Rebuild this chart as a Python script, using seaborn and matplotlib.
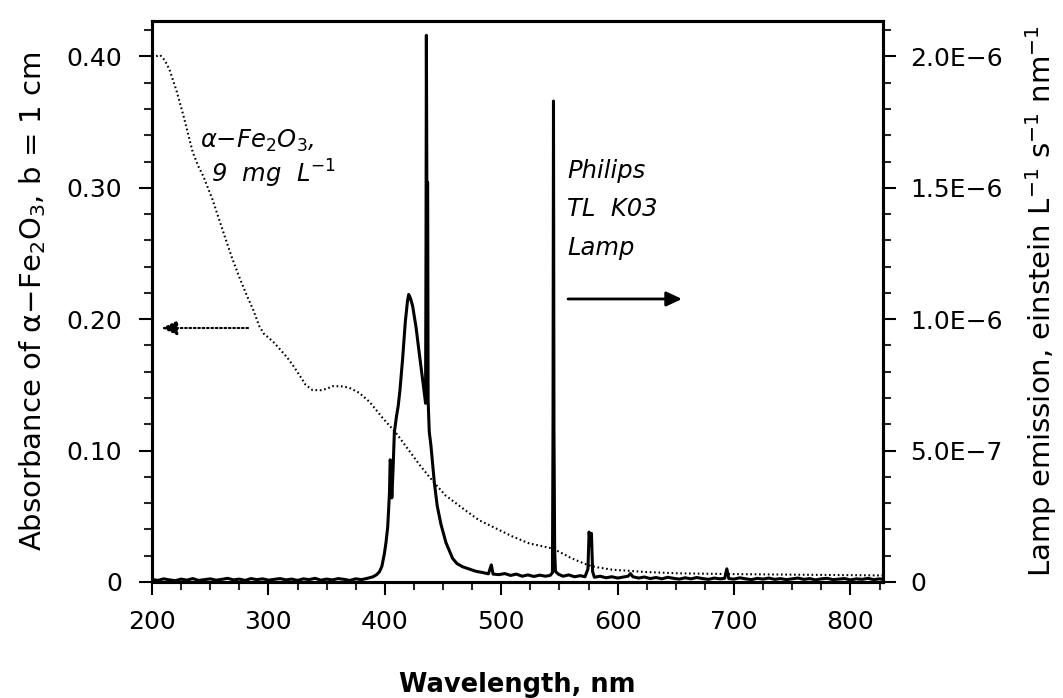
import numpy as np
import pandas as pd
import matplotlib
matplotlib.use("Agg")
import matplotlib.pyplot as plt
from matplotlib.ticker import MultipleLocator, FixedLocator, FixedFormatter
import seaborn as sns

# absorbance of alpha-Fe2O3 suspension (left axis)
abs_nm = [200, 203, 207, 211, 215, 221, 227, 231, 235, 240, 244, 248, 252, 258,
          264, 269, 275, 281, 287, 292, 296, 300, 305, 310, 316, 321, 327, 332,
          338, 345, 350, 355, 362, 369, 378, 387, 398, 410, 420, 430, 441, 452,
          467, 481, 495, 510, 524, 544, 550, 561, 575, 581, 595, 624, 652, 700,
          760, 828]
abs_val = [0.399, 0.400, 0.401, 0.397, 0.390, 0.374, 0.355, 0.341, 0.327, 0.316,
           0.309, 0.300, 0.291, 0.275, 0.259, 0.246, 0.232, 0.219, 0.207, 0.195,
           0.189, 0.186, 0.182, 0.177, 0.171, 0.165, 0.157, 0.150, 0.146, 0.146,
           0.147, 0.149, 0.149, 0.148, 0.144, 0.137, 0.125, 0.113, 0.101, 0.089,
           0.077, 0.066, 0.056, 0.047, 0.041, 0.0345, 0.0294, 0.0255, 0.0229,
           0.0178, 0.0127, 0.0114, 0.0094, 0.0076, 0.0066, 0.006, 0.0055, 0.005]

# lamp emission, in units of 1E-6 einstein L-1 s-1 nm-1 (right axis)
lamp_nm = [200, 205, 210, 215, 220, 225, 230, 235, 240, 245, 250, 255, 260, 265,
           270, 275, 280, 285, 290, 295, 300, 305, 310, 315, 320, 325, 330, 335,
           340, 345, 350, 355, 360, 365, 370, 375, 380, 385, 390, 393,
           395.4, 397.5, 399.7, 401, 402.5, 404, 404.6, 405.2, 406, 407, 408.2,
           410, 411.5, 413, 415.3, 417.6, 419.5, 420.5, 422, 423.9, 426.8, 429.6,
           432.5, 434.2, 435.0, 435.4, 435.7, 436.1, 436.8, 437.2, 438.2, 439.6,
           442.5, 445, 448.2, 452.5, 458.2, 462, 466.8, 472, 478, 484, 489, 491.5,
           493, 498, 503, 508, 513, 518, 523, 528, 533, 538, 542, 544, 544.5,
           544.9, 545.3, 545.9, 546.6, 549, 553, 558, 563, 568, 572, 574.5, 575.5,
           576.5, 577.5, 578.5, 580, 585, 590, 595, 600, 605, 609, 611, 613, 618,
           623, 628, 633, 638, 643, 648, 653, 658, 663, 668, 673, 678, 683, 688,
           692, 693.8, 695.5, 700, 705, 710, 715, 720, 725, 730, 735, 740, 745,
           750, 755, 760, 765, 770, 775, 780, 785, 790, 795, 800, 805, 810, 815,
           820, 825, 828]
lamp_val = [0.010, 0.006, 0.012, 0.008, 0.005, 0.011, 0.007, 0.013, 0.006, 0.009,
            0.012, 0.007, 0.010, 0.014, 0.008, 0.011, 0.006, 0.013, 0.009, 0.012,
            0.007, 0.010, 0.013, 0.008, 0.011, 0.006, 0.012, 0.009, 0.014, 0.007,
            0.011, 0.008, 0.013, 0.010, 0.006, 0.012, 0.009, 0.014, 0.020, 0.028,
            0.039, 0.06, 0.11, 0.15, 0.21, 0.34, 0.465, 0.45, 0.32, 0.42, 0.57,
            0.63, 0.67, 0.73, 0.85, 0.99, 1.07, 1.094, 1.08, 1.05, 0.97, 0.87,
            0.77, 0.71, 0.68, 1.3, 2.08, 1.52, 1.52, 0.69, 0.57, 0.52,
            0.38, 0.29, 0.22, 0.15, 0.09, 0.07, 0.058, 0.05, 0.041, 0.036, 0.031, 0.065,
            0.03, 0.028, 0.032, 0.025, 0.03, 0.022, 0.027, 0.021, 0.026, 0.022, 0.025, 0.035, 0.6,
            1.83, 0.59, 0.12, 0.04, 0.03, 0.022, 0.027, 0.02, 0.024, 0.02, 0.05, 0.19,
            0.14, 0.185, 0.04, 0.018, 0.022, 0.016, 0.02, 0.015, 0.019, 0.022, 0.032, 0.02, 0.015,
            0.019, 0.013, 0.017, 0.012, 0.018, 0.014, 0.011, 0.016, 0.012, 0.017, 0.013, 0.010, 0.015, 0.012,
            0.014, 0.05, 0.013, 0.011, 0.016, 0.012, 0.009, 0.014, 0.011, 0.015, 0.010, 0.013, 0.009,
            0.012, 0.015, 0.010, 0.013, 0.008, 0.012, 0.014, 0.009, 0.011, 0.013, 0.008, 0.012, 0.010, 0.014,
            0.009, 0.012, 0.010]

x_ticks = [200, 300, 400, 500, 600, 700, 800]
left_ticks = [0, 0.10, 0.20, 0.30, 0.40]
left_labels = ["0", "0.10", "0.20", "0.30", "0.40"]
right_ticks = [0, 0.5, 1.0, 1.5, 2.0]
right_labels = ["0", "5.0E\u22127", "1.0E\u22126", "1.5E\u22126", "2.0E\u22126"]

sns.set_theme(style="ticks")
plt.rcParams["font.family"] = ["DejaVu Sans"]
plt.rcParams["text.color"] = "black"
plt.rcParams["axes.labelcolor"] = "black"
plt.rcParams["axes.edgecolor"] = "black"

abs_df = pd.DataFrame({"nm": abs_nm, "absorbance": abs_val})
lamp_df = pd.DataFrame({"nm": lamp_nm, "emission": lamp_val})

fig = plt.figure(figsize=(10.63, 6.98), dpi=100)
ax = fig.add_axes([0.143, 0.1662, 0.6877, 0.8038])
ax2 = ax.twinx()

sns.lineplot(data=lamp_df, x="nm", y="emission", ax=ax2, color="black", lw=2.2,
             estimator=None, sort=False)
sns.lineplot(data=abs_df, x="nm", y="absorbance", ax=ax, color="black", lw=1.5,
             estimator=None, sort=False, linestyle=(0, (0.8, 1.3)))

ymax = 0.427
ax.set_xlim(200, 828)
ax.set_ylim(0, ymax)
ax2.set_ylim(0, ymax * 5)

ax.xaxis.set_major_locator(FixedLocator(x_ticks))
ax.xaxis.set_minor_locator(MultipleLocator(25))
ax.yaxis.set_major_locator(FixedLocator(left_ticks))
ax.yaxis.set_major_formatter(FixedFormatter(left_labels))
ax.yaxis.set_minor_locator(MultipleLocator(0.02))
ax2.yaxis.set_major_locator(FixedLocator(right_ticks))
ax2.yaxis.set_major_formatter(FixedFormatter(right_labels))
ax2.yaxis.set_minor_locator(MultipleLocator(0.1))

for a in (ax, ax2):
    a.tick_params(which="major", direction="out", length=9.4, width=1.5,
                  labelsize=18, colors="black")
    a.tick_params(which="minor", direction="out", length=5.8, width=1.5)
    for s in a.spines.values():
        s.set_linewidth(2.2)
        s.set_color("black")
ax.tick_params(axis="x", which="major", pad=11)
ax.tick_params(axis="y", which="major", pad=12)
ax2.tick_params(axis="y", which="major", pad=10)
ax.tick_params(top=False, right=False, which="both")

ax.set_xlabel("Wavelength, nm", fontsize=18.5, fontweight="bold", va="center")
ax.xaxis.set_label_coords(0.5, -0.184)
ax.set_ylabel("Absorbance of \u03b1\u2212Fe$_2$O$_3$, b = 1 cm", fontsize=21,
              va="center")
ax.yaxis.set_label_coords(-0.163, 0.5)
ax2.set_ylabel("Lamp emission, einstein L$^{-1}$ s$^{-1}$ nm$^{-1}$", fontsize=21,
               va="center")
ax2.yaxis.set_label_coords(1.216, 0.5)

# annotations
ax.text(241, 0.3307, "\u03b1\u2212Fe$_2$O$_3$,", fontsize=17.5, style="italic",
        ha="left", va="baseline")
ax.text(251, 0.304, "9  mg  L$^{-1}$", fontsize=17.5, style="italic",
        ha="left", va="baseline")
for txt, yb in zip(["Philips", "TL  K03", "Lamp"], [0.3076, 0.2784, 0.2492]):
    ax.text(556.8, yb, txt, fontsize=17.5, style="italic", ha="left", va="baseline")

ax.annotate("", xy=(208.3, 0.1933), xytext=(282.5, 0.1933),
            arrowprops=dict(arrowstyle="-|>,head_length=0.47,head_width=0.22",
                            mutation_scale=20, lw=1.5, color="black",
                            linestyle=(0, (0.8, 1.3)), shrinkA=0, shrinkB=0))
ax.annotate("", xy=(655.3, 0.2154), xytext=(557.4, 0.2154),
            arrowprops=dict(arrowstyle="-|>,head_length=0.47,head_width=0.22",
                            mutation_scale=20, lw=2.0, color="black",
                            shrinkA=0, shrinkB=0))

fig.savefig("out.png", dpi=100)
